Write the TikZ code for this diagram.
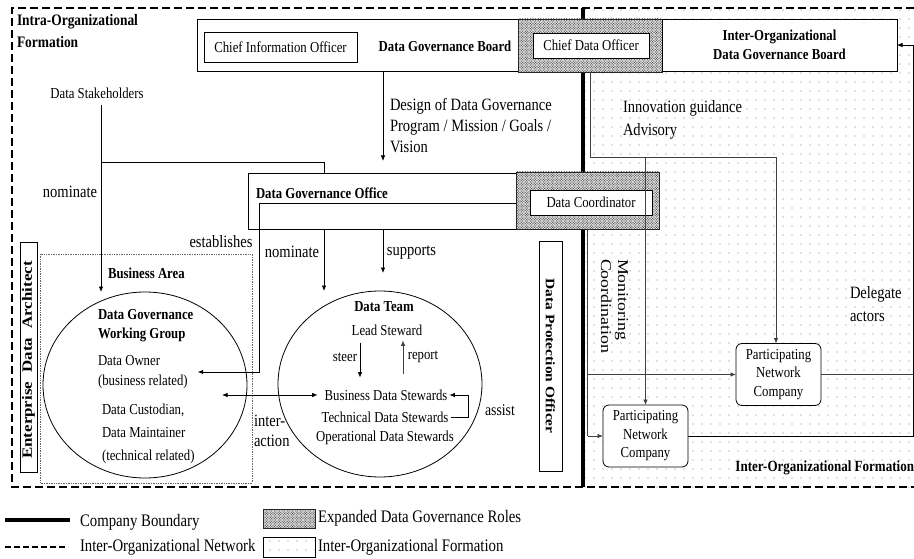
\documentclass[tikz,border=0pt]{standalone}
\usepackage{fontspec}
\setmainfont{Liberation Serif}[FakeStretch=0.84]
\newfontfamily\rotfont{Liberation Serif}[FakeStretch=1.19]
\usetikzlibrary{arrows.meta,patterns,shapes.geometric}
\pgfdeclarepatternformonly{densedots}{\pgfqpoint{-1pt}{-1pt}}{\pgfqpoint{3pt}{3pt}}{\pgfqpoint{2.6pt}{2.6pt}}{\pgfpathcircle{\pgfqpoint{0pt}{0pt}}{0.62pt}\pgfpathcircle{\pgfqpoint{1.3pt}{1.3pt}}{0.62pt}\pgfusepath{fill}}
\pgfdeclarepatternformonly{sparsedots}{\pgfqpoint{-1pt}{-1pt}}{\pgfqpoint{1pt}{1pt}}{\pgfqpoint{9pt}{9pt}}{\pgfpathcircle{\pgfqpoint{0pt}{0pt}}{0.7pt}\pgfusepath{fill}}
\begin{document}
\begin{tikzpicture}[x=1pt,y=-1pt,
 every node/.style={inner sep=0pt,outer sep=0pt},
 nf/.style={font=\fontsize{15.2}{19}\selectfont},
 bf/.style={font=\fontsize{15.2}{19}\selectfont\bfseries},
 lf/.style={font=\fontsize{17.3}{21}\selectfont},
 legf/.style={font=\fontsize{17.6}{20}\selectfont},
 conn/.style={line width=0.8pt},
 gconn/.style={line width=0.8pt,draw=black!75},
 arr/.style={conn,-{Latex[length=5.5pt,width=4.5pt]}},
 garr/.style={gconn,-{Latex[length=5.5pt,width=4.5pt]}},
 dbl/.style={conn,{Latex[length=5.5pt,width=4.5pt]}-{Latex[length=5.5pt,width=4.5pt]}},
 rbox/.style={draw,fill=white,line width=0.8pt},
 hbox/.style={draw=black!85,line width=0.7pt,preaction={fill=gray!22},pattern=densedots,pattern color=black!72},
 pncbox/.style={draw,fill=white,line width=0.8pt,rounded corners=6pt,minimum width=85pt,minimum height=62pt,align=center,font=\fontsize{15.2}{18.5}\selectfont},
 oval/.style={draw,ellipse,line width=0.8pt,minimum width=204pt,minimum height=186pt}
]
\useasboundingbox (0,0) rectangle (914,559);
% inter-organizational region
\fill[pattern=sparsedots,pattern color=black!50] (585,8) rectangle (914,487);
% network frame and company boundary
\draw[line width=2.2pt,dash pattern=on 8pt off 4pt] (914,8) -- (12,8) -- (12,487) -- (914,487);
\draw[line width=3.6pt] (583,8) -- (583,487);
% business area
\draw[densely dotted,draw=black!60,line width=0.7pt] (40,254) rectangle (252,483);
\node[bf,anchor=west] (ba) at (108,273) {Business Area};

\node[align=left,anchor=west,font=\fontsize{16}{22}\selectfont\bfseries] (intra) at (17,31) {Intra-Organizational\\Formation};

% top row
\node[rbox,minimum width=321pt,minimum height=52pt] (dgb) at (357.5,45) {};
\node[rbox,nf,minimum width=153pt,minimum height=30pt] (cio) at (280.5,47.5) {Chief Information Officer};
\node[bf] (dgbl) at (445,46) {Data Governance Board};
\node[hbox,minimum width=144pt,minimum height=53pt] (cdoh) at (590,45.5) {};
\node[rbox,nf,minimum width=116pt,minimum height=25pt] (cdo) at (591,45.5) {Chief Data Officer};
\node[rbox,bf,align=center,minimum width=235pt,minimum height=52pt] (iodgb) at (779.5,45) {Inter-Organizational\\Data Governance Board};

\node[nf] (stake) at (97,93) {Data Stakeholders};
\node[align=left,anchor=west,font=\fontsize{17.3}{21}\selectfont] (design) at (390,126) {Design of Data Governance\\Program / Mission / Goals /\\Vision};

% office row
\node[rbox,minimum width=268pt,minimum height=56pt] (dgo) at (382,201) {};
\node[bf,anchor=west] (dgol) at (256,193) {Data Governance Office};
\node[hbox,minimum width=143pt,minimum height=57pt] (dch) at (587.5,200.5) {};
\node[rbox,nf,minimum width=122pt,minimum height=25pt] (dc) at (591,202.5) {Data Coordinator};

\node[align=left,anchor=west,font=\fontsize{17.3}{23}\selectfont] (innov) at (623,120) {Innovation guidance\\Advisory};

% side roles
\node[rbox,minimum width=17pt,minimum height=230pt] (eda) at (28.5,357) {};
\node[rotate=90,font=\rotfont\fontsize{14.2}{16}\selectfont\bfseries] (edat) at (28.5,360) {Enterprise\hspace{5pt} Data\hspace{5pt} Architect};
\node[rbox,minimum width=23pt,minimum height=230pt] (dpo) at (550.5,356) {};
\node[rotate=-90,font=\rotfont\fontsize{13}{15}\selectfont\bfseries] (dpot) at (550.5,356) {Data Protection Officer};

% groups
\node[oval] (dgwg) at (145,385) {};
\node[oval] (dt) at (380,384) {};
\node[bf,align=left,anchor=west] (dgwgt) at (98,326) {Data Governance\\Working Group};
\node[align=left,anchor=west,font=\fontsize{15.2}{20}\selectfont] (downer) at (98,372) {Data Owner\\(business related)};
\node[align=left,anchor=west,font=\fontsize{15.2}{23}\selectfont] (dcust) at (102,434) {Data Custodian,\\Data Maintainer\\(technical related)};
\node[bf] (dtt) at (384,307) {Data Team};
\node[nf] (lead) at (387,330) {Lead Steward};
\node[nf] (bds) at (386,395) {Business Data Stewards};
\node[nf] (tds) at (385,417) {Technical Data Stewards};
\node[nf] (ods) at (385,438) {Operational Data Stewards};

% labels
\node[lf] (nom1) at (70,192) {nominate};
\node[lf] (estab) at (221,242) {establishes};
\node[lf] (nom2) at (292,252) {nominate};
\node[lf] (supp) at (411.5,252) {supports};
\node[align=left,anchor=west,font=\fontsize{17.3}{19.5}\selectfont] (inter) at (254,431) {inter-\\action};
\node[nf] (steer) at (345,357) {steer};
\node[nf] (report) at (423,357) {report};
\node[font=\fontsize{16.4}{19}\selectfont] (assist) at (500,410) {assist};

% network companies
\node[pncbox] (pnc1) at (778.5,374.5) {Participating\\Network\\Company};
\node[pncbox] (pnc2) at (645.5,436) {Participating\\Network\\Company};
\node[rotate=-90,align=left,anchor=north west,font=\rotfont\fontsize{15}{17}\selectfont] (monit) at (628,259) {Monitoring\\Coordination};
\node[align=left,anchor=west,font=\fontsize{17.3}{23}\selectfont] (deleg) at (850,304.5) {Delegate\\actors};
\node[anchor=east,font=\fontsize{15.5}{18}\selectfont\bfseries] (iof) at (914,468) {Inter-Organizational Formation};

% connectors (left)
\draw[arr] ([xshift=25.5pt]dgb.south) -- ([xshift=1pt,yshift=12pt]dgo.north);
\draw[arr] ([xshift=4pt,yshift=-7pt]stake.south) -- ([xshift=-44pt]dgwg.north);
\coordinate (sk) at (101,162);
\draw[conn] (sk) -| ([xshift=-58pt]dgo.north);
\draw[arr] ([xshift=-58pt]dgo.south) -- ([xshift=-56pt]dt.north);
\draw[arr] ([xshift=1pt]dgo.south) -- ([xshift=3pt,yshift=18pt]dt.north);
\draw[arr] ([yshift=-2.5pt]dch.west) -- ++(-257,0) |- ([xshift=10pt]downer.east);
\draw[dbl] ([xshift=-25pt,yshift=-10pt]dgwg.east) -- ([xshift=-7pt]bds.west);
\draw[arr] ([xshift=-27pt,yshift=-8pt]lead.south) -- ([xshift=-26pt,yshift=12pt]bds.north);
\draw[garr] ([xshift=17pt,yshift=16pt]bds.north) -- ([xshift=16pt,yshift=-5pt]lead.south);
\draw[arr] ([xshift=3pt]tds.east) -- ++(17,0) |- ([xshift=2pt]bds.east);

% connectors (right)
\coordinate (cdoy) at (0,157);
\draw[garr] (cdoh.south) -- (cdoh.south |- cdoy) -| ([xshift=-2.5pt]pnc1.north);
\draw[garr] (pnc2.north |- cdoy) -- (pnc2.north);
\draw[gconn] (dch.south) -- (dch.south |- pnc2.west);
\draw[garr] (dch.south |- pnc1.west) -- (pnc1.west);
\draw[garr] (dch.south |- pnc2.west) -- (pnc2.west);
\coordinate (redge) at (913,0);
\draw[gconn] (pnc1.east) -- (pnc1.east -| redge);
\draw[arr] (pnc2.east) -- (pnc2.east -| redge) -- (iodgb.east -| redge) -- (iodgb.east);

% legend
\draw[line width=4pt] (5,520) -- (70,520);
\node[legf,anchor=west] (lg1) at (80,522) {Company Boundary};
\draw[line width=1.2pt,dash pattern=on 5.5pt off 3.5pt] (5,547) -- (68,547);
\node[legf,anchor=west] (lg2) at (80,547) {Inter-Organizational Network};
\node[hbox,minimum width=52pt,minimum height=19pt] (lg3) at (289,518.5) {};
\node[legf,anchor=west] (lg3t) at (318,518) {Expanded Data Governance Roles};
\node[draw,line width=0.8pt,pattern=sparsedots,pattern color=black!50,minimum width=52pt,minimum height=20pt] (lg4) at (289,547) {};
\node[legf,anchor=west] (lg4t) at (318,547) {Inter-Organizational Formation};
\end{tikzpicture}
\end{document}
